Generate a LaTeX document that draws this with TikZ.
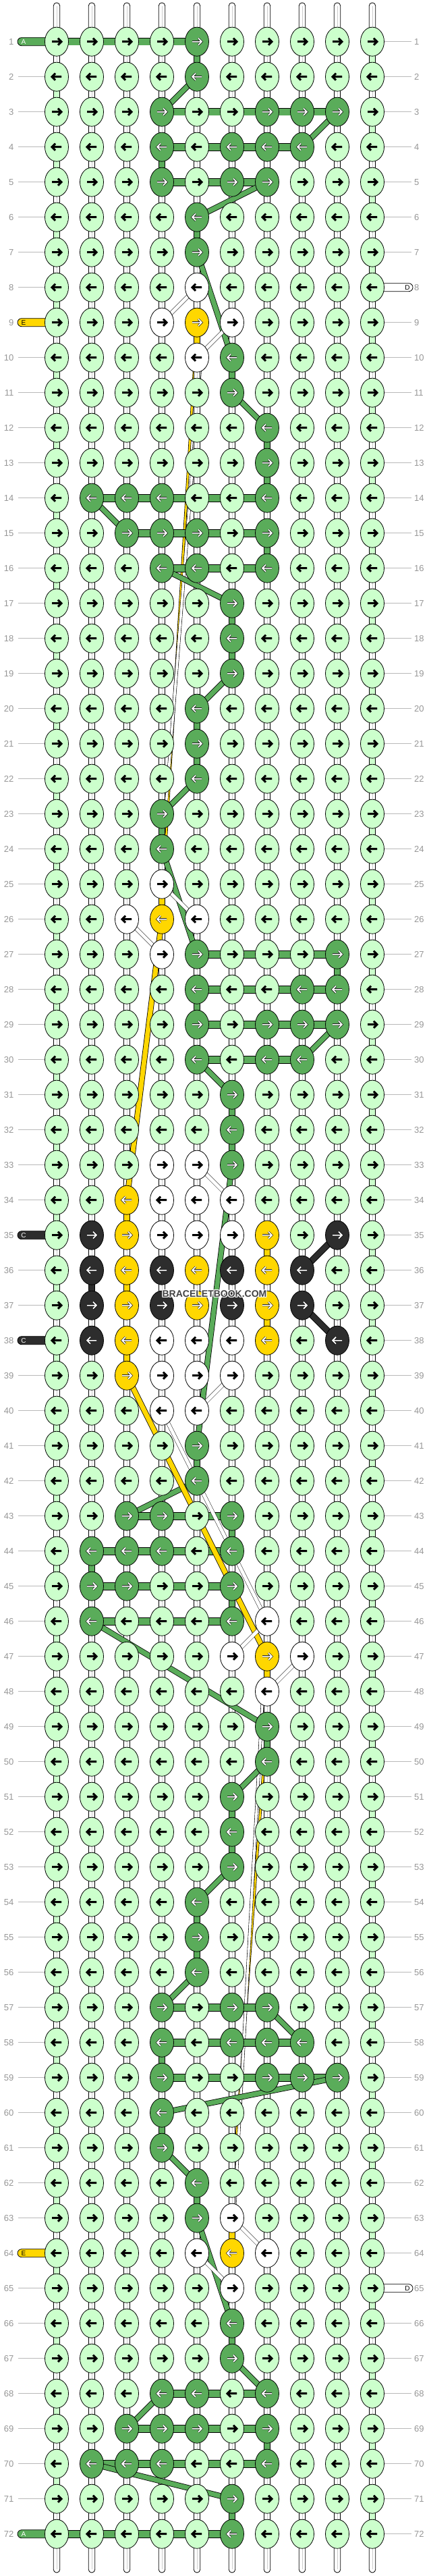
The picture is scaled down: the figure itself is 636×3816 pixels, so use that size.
\documentclass[tikz,border=0pt]{standalone}
\usepackage{fontspec}
\setmainfont{Liberation Sans}
\usetikzlibrary{shapes.geometric}
\definecolor{lgreen}{RGB}{204,255,204}
\definecolor{dgreen}{RGB}{90,172,90}
\definecolor{gold}{RGB}{255,215,0}
\definecolor{coal}{RGB}{45,45,45}
\definecolor{rulegray}{RGB}{185,185,185}
\definecolor{numgray}{RGB}{150,150,150}
% knot fill / arrow colour by letter
\colorlet{cL}{lgreen}\colorlet{cG}{dgreen}\colorlet{cW}{white}\colorlet{cY}{gold}\colorlet{cB}{coal}
\colorlet{aL}{black}\colorlet{aW}{black}\colorlet{aG}{white}\colorlet{aY}{white}\colorlet{aB}{white}
\tikzset{
  knot/.style={ellipse, draw=black, line width=0.8pt, minimum width=35pt, minimum height=43pt, inner sep=0pt},
  hbar/.style={draw=black, line width=0.8pt, double=lgreen, double distance=10pt},
  warp/.style={draw=black, line width=0.8pt, double=white, double distance=8pt},
  turn/.style={draw=black, line width=0.8pt, double=lgreen, double distance=8pt},
  gbar/.style={draw=black, line width=0.8pt, double=dgreen, double distance=10pt},
  gvbar/.style={draw=black, line width=0.8pt, double=dgreen, double distance=8pt},
  gdiag/.style={draw=black, line width=0.8pt, double=dgreen, double distance=7pt},
  ybar/.style={draw=black, line width=0.8pt, double=gold, double distance=8pt},
  ydiag/.style={draw=black, line width=0.8pt, double=gold, double distance=7pt},
  bbar/.style={draw=black, line width=0.8pt, double=coal, double distance=8pt},
  thinY/.style={draw=black, line width=0.7pt, double=gold, double distance=2.6pt},
  thinW/.style={draw=black, line width=0.6pt, double=white, double distance=3.6pt},
  hatch/.style={draw=black, line width=0.5pt, double=white, double distance=5pt},
  tailbox/.style={draw=black, line width=0.8pt, rounded corners=6pt},
  rownum/.style={text=numgray, font=\fontsize{13}{13}\selectfont, inner sep=0pt},
  arr/.style={line join=miter, line cap=butt},
}
\begin{document}
\begin{tikzpicture}[x=1pt, y=-1pt]
\useasboundingbox (0,0) rectangle (636,3816);
% grid points
\foreach \r in {1,...,72}
  \foreach \c in {1,...,10}
    \coordinate (p-\r-\c) at ({32+52*\c},{9.7+52*\r});
% threads carried on the back
\draw[thinY] ([xshift=-3pt]p-10-5) -- ([xshift=2pt]p-25-4);
\draw[thinW] ([xshift=6pt]p-10-5) -- ([xshift=-3pt]p-25-4);
\draw[thinY] ([xshift=3pt]p-48-7) -- ([xshift=-2pt]p-63-6);
\draw[thinW] ([xshift=-6pt]p-48-7) -- ([xshift=3pt]p-63-6);
% row numbers and guide lines
\foreach \r in {1,...,72}{
  \node[rownum, anchor=east] (ll-\r) at (20.5,{9.7+52*\r}) {\r};
  \node[rownum, anchor=west] (lr-\r) at (614,{9.7+52*\r}) {\r};
  \draw[rulegray, line width=1pt] ([xshift=6pt]ll-\r.east) -- (p-\r-1);
  \draw[rulegray, line width=1pt] (p-\r-10) -- ([xshift=-4pt]lr-\r.west);
}
% warp ends
\foreach \c in {1,...,10}{
  \pgfmathsetmacro\x{32+52*\c}
  \draw[fill=white, line width=0.8pt, rounded corners=4.8pt] (\x-4.8,4) rectangle (\x+4.8,50);
  \draw[gray!40, line width=0.6pt] (\x,9) -- (\x,50);
  \draw[fill=white, line width=0.8pt, rounded corners=4.8pt] (\x-4.8,3740) rectangle (\x+4.8,3811);
  \draw[gray!40, line width=0.6pt] (\x,3740) -- (\x,3806);
}
% warps and turns between rows
\foreach \r [evaluate=\r as \s using int(\r+1), evaluate=\r as \e using {int(mod(\r,2)*9+1)}] in {1,...,71}
  \foreach \c in {1,...,10}{
    \ifnum\c=\e
      \draw[turn] (p-\r-\c) -- (p-\s-\c);
    \else
      \draw[warp] (p-\r-\c) -- (p-\s-\c);
      \draw[gray!40, line width=0.6pt] (p-\r-\c) -- (p-\s-\c);
    \fi
  }
% knotting rows
\foreach \r in {1,...,72}
  \foreach \c [evaluate=\c as \n using int(\c+1)] in {1,...,9}
    \draw[hbar] (p-\r-\c) -- (p-\r-\n);
% thread A
\foreach \r/\c [remember=\r as \pr (initially 0), remember=\c as \pc (initially 0)] in
  {1/1,1/5,2/5,3/4,3/9,4/8,4/4,5/4,5/7,6/5,7/5,10/6,11/6,12/7,14/7,14/2,15/3,15/7,16/7,16/4,
   17/6,19/6,20/5,22/5,23/4,24/4,27/5,27/9,28/9,28/5,29/5,29/9,30/8,30/5,31/6,33/6,41/5,42/5,
   43/3,43/6,44/6,44/2,45/2,45/6,46/6,46/2,49/7,50/7,51/6,53/6,54/5,56/5,57/4,57/7,58/8,58/4,
   59/4,59/9,60/4,61/4,62/5,63/5,66/6,67/6,68/7,68/4,69/3,69/7,70/7,70/2,71/6,72/6,72/1}{
  \ifnum\pr>0
    \ifnum\pr=\r
      \draw[gbar] (p-\pr-\pc) -- (p-\r-\c);
    \else\ifnum\pc=\c
      \draw[gvbar] (p-\pr-\pc) -- (p-\r-\c);
    \else
      \draw[gdiag] (p-\pr-\pc) -- (p-\r-\c);
    \fi\fi
  \fi
}
% thread E
\foreach \a/\b/\u/\v in {9/5/10/5,25/4/26/4,34/3/35/3,36/3/37/3,38/3/39/3,35/7/36/7,37/7/38/7,47/7/48/7,63/6/64/6}
  \draw[ybar] (p-\a-\b) -- (p-\u-\v);
\draw[ydiag] (p-26-4) -- (p-34-3);
\draw[ydiag] (p-39-3) -- (p-47-7);
% thread C
\draw[bbar] (p-36-2) -- (p-37-2);
\draw[bbar] (p-35-9) -- (p-36-8);
\draw[bbar] (p-37-8) -- (p-38-9);
% thread D
\foreach \a/\b/\u/\v in {8/5/9/4,9/6/10/5,25/4/26/5,26/3/27/4,33/5/34/6,39/6/40/5,40/4/46/7,46/7/47/6,47/8/48/7,63/6/64/7,64/5/65/6}
  \draw[hatch] (p-\a-\b) -- (p-\u-\v);
% loose ends
\foreach \r/\col/\txt/\tc in {1/dgreen/A/white,9/gold/E/black,35/coal/C/white,38/coal/C/white,64/gold/E/black,72/dgreen/A/white}{
  \draw[tailbox, fill=\col] (26,{3.7+52*\r}) rectangle (80,{15.7+52*\r});
  \node[text=\tc, font=\fontsize{10}{10}\selectfont, inner sep=0pt] (end-\r) at (35,{9.7+52*\r}) {\txt};
}
\foreach \r in {8,65}{
  \draw[tailbox, fill=white] (540,{3.7+52*\r}) rectangle (612,{15.7+52*\r});
  \node[font=\fontsize{10}{10}\selectfont, inner sep=0pt] (end-\r) at (604,{9.7+52*\r}) {D};
}
% knots
\foreach \r/\cols in {
  1/{L,L,L,L,G,L,L,L,L,L}, 2/{L,L,L,L,G,L,L,L,L,L}, 3/{L,L,L,G,L,L,G,G,G,L}, 4/{L,L,L,G,L,G,G,G,L,L},
  5/{L,L,L,G,L,G,G,L,L,L}, 6/{L,L,L,L,G,L,L,L,L,L}, 7/{L,L,L,L,G,L,L,L,L,L}, 8/{L,L,L,L,W,L,L,L,L,L},
  9/{L,L,L,W,Y,W,L,L,L,L}, 10/{L,L,L,L,W,G,L,L,L,L}, 11/{L,L,L,L,L,G,L,L,L,L}, 12/{L,L,L,L,L,L,G,L,L,L},
  13/{L,L,L,L,L,L,G,L,L,L}, 14/{L,G,G,G,L,L,G,L,L,L}, 15/{L,L,G,G,G,L,G,L,L,L}, 16/{L,L,L,G,G,L,G,L,L,L},
  17/{L,L,L,L,L,G,L,L,L,L}, 18/{L,L,L,L,L,G,L,L,L,L}, 19/{L,L,L,L,L,G,L,L,L,L}, 20/{L,L,L,L,G,L,L,L,L,L},
  21/{L,L,L,L,G,L,L,L,L,L}, 22/{L,L,L,L,G,L,L,L,L,L}, 23/{L,L,L,G,L,L,L,L,L,L}, 24/{L,L,L,G,L,L,L,L,L,L},
  25/{L,L,L,W,L,L,L,L,L,L}, 26/{L,L,W,Y,W,L,L,L,L,L}, 27/{L,L,L,W,G,L,L,L,G,L}, 28/{L,L,L,L,G,L,L,G,G,L},
  29/{L,L,L,L,G,L,G,G,G,L}, 30/{L,L,L,L,G,L,G,G,L,L}, 31/{L,L,L,L,L,G,L,L,L,L}, 32/{L,L,L,L,L,G,L,L,L,L},
  33/{L,L,L,W,W,G,L,L,L,L}, 34/{L,L,Y,W,W,W,L,L,L,L}, 35/{L,B,Y,W,W,W,Y,L,B,L}, 36/{L,B,Y,B,Y,B,Y,B,L,L},
  37/{L,B,Y,B,Y,B,Y,B,L,L}, 38/{L,B,Y,W,W,W,Y,L,B,L}, 39/{L,L,Y,W,W,W,L,L,L,L}, 40/{L,L,L,W,W,L,L,L,L,L},
  41/{L,L,L,L,G,L,L,L,L,L}, 42/{L,L,L,L,G,L,L,L,L,L}, 43/{L,L,G,G,L,G,L,L,L,L}, 44/{L,G,G,G,L,G,L,L,L,L},
  45/{L,G,G,L,L,G,L,L,L,L}, 46/{L,G,L,L,L,G,W,L,L,L}, 47/{L,L,L,L,L,W,Y,W,L,L}, 48/{L,L,L,L,L,L,W,L,L,L},
  49/{L,L,L,L,L,L,G,L,L,L}, 50/{L,L,L,L,L,L,G,L,L,L}, 51/{L,L,L,L,L,G,L,L,L,L}, 52/{L,L,L,L,L,G,L,L,L,L},
  53/{L,L,L,L,L,G,L,L,L,L}, 54/{L,L,L,L,G,L,L,L,L,L}, 55/{L,L,L,L,G,L,L,L,L,L}, 56/{L,L,L,L,G,L,L,L,L,L},
  57/{L,L,L,G,L,G,G,L,L,L}, 58/{L,L,L,G,L,G,G,G,L,L}, 59/{L,L,L,G,L,L,G,G,G,L}, 60/{L,L,L,G,L,L,L,L,L,L},
  61/{L,L,L,G,L,L,L,L,L,L}, 62/{L,L,L,L,G,L,L,L,L,L}, 63/{L,L,L,L,G,W,L,L,L,L}, 64/{L,L,L,L,W,Y,W,L,L,L},
  65/{L,L,L,L,L,W,L,L,L,L}, 66/{L,L,L,L,L,G,L,L,L,L}, 67/{L,L,L,L,L,G,L,L,L,L}, 68/{L,L,L,G,G,L,G,L,L,L},
  69/{L,L,G,G,G,L,G,L,L,L}, 70/{L,G,G,G,L,L,G,L,L,L}, 71/{L,L,L,L,L,G,L,L,L,L}, 72/{L,L,L,L,L,G,L,L,L,L}}{
  \pgfmathsetmacro\d{ifthenelse(mod(\r,2)==1,1,-1)}
  \pgfmathsetmacro\y{9.7+52*\r}
  \foreach \k [count=\c] in \cols {
    \node[knot, fill=c\k] (k-\r-\c) at (p-\r-\c) {};
    \pgfmathsetmacro\xa{32+52*\c-7*(\d)}
    \pgfmathsetmacro\xb{32+52*\c+6*(\d)}
    \pgfmathsetmacro\xc{32+52*\c+2*(\d)}
    \pgfmathsetmacro\xt{32+52*\c+7*(\d)}
    \draw[arr, black, line width=3pt] (\xa,\y) -- (\xb,\y) (\xc,\y-5) -- (\xt,\y) -- (\xc,\y+5);
    \draw[arr, a\k, line width=1.8pt] (\xa,\y) -- (\xb,\y) (\xc,\y-5) -- (\xt,\y) -- (\xc,\y+5);
  }
}
% watermark
\foreach \dx/\dy in {-1/0,1/0,0/-1,0/1,-1/-1,1/1,-1/1,1/-1}
  \node[font=\fontsize{14}{14}\selectfont\bfseries, text=white] at (318+\dx,1917+\dy) {BRACELETBOOK.COM};
\node[font=\fontsize{14}{14}\selectfont\bfseries, text=coal!90] (mark) at (318,1917) {BRACELETBOOK.COM};
\end{tikzpicture}
\end{document}
